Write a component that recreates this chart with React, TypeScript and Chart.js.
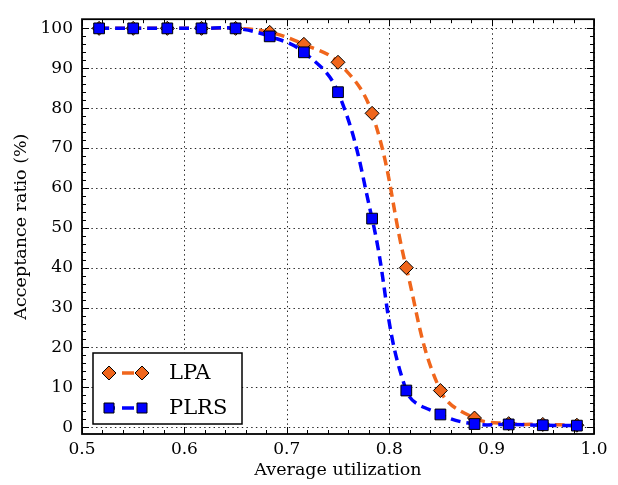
import React, { useEffect, useRef } from "react";
import { Chart, registerables } from "chart.js";

Chart.register(...registerables);

const utilization = [0.5167, 0.55, 0.5833, 0.6167, 0.65, 0.6833, 0.7167, 0.75, 0.7833, 0.8167, 0.85, 0.8833, 0.9167, 0.95, 0.9833];
const lpa = [100, 100, 100, 100, 100, 99, 96, 91.5, 78.7, 40, 9.2, 2.3, 0.9, 0.7, 0.5];
const plrs = [100, 100, 100, 100, 100, 98, 94, 84, 52.3, 9.2, 3.2, 0.8, 0.7, 0.5, 0.4];

const xTicks = [0.5, 0.6, 0.7, 0.8, 0.9, 1.0];
const xTickLabels = ["0.5", "0.6", "0.7", "0.8", "0.9", "1.0"];
const yTicks = [0, 10, 20, 30, 40, 50, 60, 70, 80, 90, 100];
const yTickLabels = ["0", "10", "20", "30", "40", "50", "60", "70", "80", "90", "100"];
const xMinorStep = 0.02;
const yMinorStep = 2;

const seriesNames = ["LPA", "PLRS"];
const ORANGE = "#f0661c";
const BLUE = "#0000ff";
const FONT = "'DejaVu Serif', serif";

const framePlugin = {
  id: "framePlugin",
  beforeDatasetsDraw(chart: any) {
    const { ctx, chartArea, scales } = chart;
    const xs = scales.x;
    const ys = scales.y;
    ctx.save();
    ctx.strokeStyle = "#222";
    ctx.lineWidth = 1;
    ctx.setLineDash([1.4, 3.3]);
    for (const v of xTicks) {
      const px = Math.round(xs.getPixelForValue(v)) + 0.5;
      ctx.beginPath();
      ctx.moveTo(px, chartArea.top);
      ctx.lineTo(px, chartArea.bottom);
      ctx.stroke();
    }
    for (const v of yTicks) {
      const py = Math.round(ys.getPixelForValue(v)) + 0.5;
      ctx.beginPath();
      ctx.moveTo(chartArea.left, py);
      ctx.lineTo(chartArea.right, py);
      ctx.stroke();
    }
    ctx.restore();
  },
  afterDatasetsDraw(chart: any) {
    const { ctx, chartArea, scales } = chart;
    const xs = scales.x;
    const ys = scales.y;
    const { left, right, top, bottom } = chartArea;
    ctx.save();
    ctx.strokeStyle = "#000";
    ctx.setLineDash([]);
    ctx.lineWidth = 1;
    const major = 7;
    const minor = 4;
    for (let v = 0.5; v <= 1.0001; v += xMinorStep) {
      const isMajor = xTicks.some((t) => Math.abs(t - v) < 1e-6);
      const len = isMajor ? major : minor;
      const px = Math.round(xs.getPixelForValue(v)) + 0.5;
      ctx.beginPath();
      ctx.moveTo(px, bottom);
      ctx.lineTo(px, bottom - len);
      ctx.moveTo(px, top);
      ctx.lineTo(px, top + len);
      ctx.stroke();
    }
    for (let v = 0; v <= 100.001; v += yMinorStep) {
      const isMajor = yTicks.some((t) => Math.abs(t - v) < 1e-6);
      const len = isMajor ? major : minor;
      const py = Math.round(ys.getPixelForValue(v)) + 0.5;
      ctx.beginPath();
      ctx.moveTo(left, py);
      ctx.lineTo(left + len, py);
      ctx.moveTo(right, py);
      ctx.lineTo(right - len, py);
      ctx.stroke();
    }
    ctx.lineWidth = 1.8;
    ctx.strokeRect(left, top, right - left, bottom - top);
    ctx.restore();
  },
  afterDraw(chart: any) {
    const { ctx, chartArea } = chart;
    const bx = chartArea.left + 11;
    const by = chartArea.bottom - 81;
    const bw = 149;
    const bh = 71;
    ctx.save();
    ctx.fillStyle = "#fff";
    ctx.fillRect(bx, by, bw, bh);
    ctx.strokeStyle = "#000";
    ctx.lineWidth = 1.5;
    ctx.setLineDash([]);
    ctx.strokeRect(bx, by, bw, bh);
    const rows = [
      { name: seriesNames[0], color: ORANGE, y: by + 20, shape: "diamond" },
      { name: seriesNames[1], color: BLUE, y: by + 55, shape: "square" },
    ];
    for (const r of rows) {
      const x1 = bx + 16;
      const x2 = bx + 49;
      ctx.strokeStyle = r.color;
      ctx.lineWidth = 3.5;
      ctx.setLineDash([6, 7, 12, 20]);
      ctx.beginPath();
      ctx.moveTo(x1, r.y);
      ctx.lineTo(x2, r.y);
      ctx.stroke();
      ctx.setLineDash([]);
      for (const mx of [x1, x2]) {
        ctx.fillStyle = r.color;
        ctx.strokeStyle = "#000";
        ctx.lineWidth = 1;
        ctx.beginPath();
        if (r.shape === "diamond") {
          const s = 7;
          ctx.moveTo(mx, r.y - s);
          ctx.lineTo(mx + s, r.y);
          ctx.lineTo(mx, r.y + s);
          ctx.lineTo(mx - s, r.y);
          ctx.closePath();
        } else {
          const s = 5;
          ctx.rect(mx - s, r.y - s, 2 * s, 2 * s);
        }
        ctx.fill();
        ctx.stroke();
      }
      ctx.fillStyle = "#000";
      ctx.font = `21px ${FONT}`;
      ctx.textBaseline = "middle";
      ctx.textAlign = "left";
      ctx.fillText(r.name, bx + 76, r.y + 1);
    }
    ctx.restore();
  },
};

export default function App() {
  const ref = useRef<HTMLCanvasElement | null>(null);
  useEffect(() => {
    document.body.style.margin = "0";
    const canvas = ref.current;
    if (!canvas) return;
    const chart = new Chart(canvas, {
      type: "line",
      data: {
        datasets: [
          {
            label: seriesNames[0],
            data: utilization.map((x, i) => ({ x, y: lpa[i] })),
            borderColor: ORANGE,
            backgroundColor: ORANGE,
            borderWidth: 3.5,
            borderDash: [10, 6],
            tension: 0.4,
            pointStyle: "rectRot",
            pointRadius: 7,
            pointBorderColor: "#000",
            pointBorderWidth: 1,
            pointBackgroundColor: ORANGE,
            fill: false,
            order: 1,
          },
          {
            label: seriesNames[1],
            data: utilization.map((x, i) => ({ x, y: plrs[i] })),
            borderColor: BLUE,
            backgroundColor: BLUE,
            borderWidth: 3.5,
            borderDash: [10, 6],
            tension: 0.4,
            pointStyle: "rect",
            pointRadius: 7.6,
            pointBorderColor: "#000",
            pointBorderWidth: 1,
            pointBackgroundColor: BLUE,
            fill: false,
            order: 0,
          },
        ],
      },
      options: {
        animation: false,
        responsive: false,
        maintainAspectRatio: false,
        layout: { padding: { top: 8, right: 24, left: 0, bottom: 0 } },
        plugins: { legend: { display: false }, tooltip: { enabled: false } },
        scales: {
          x: {
            type: "linear",
            min: 0.5,
            max: 1.0,
            afterBuildTicks: (s: any) => {
              s.ticks = xTicks.map((v) => ({ value: v }));
            },
            afterFit: (s: any) => {
              s.height = 51;
            },
            ticks: {
              callback: (_v: any, i: number) => xTickLabels[i],
              font: { family: FONT, size: 17 },
              color: "#000",
              padding: 5,
              maxRotation: 0,
              autoSkip: false,
            },
            grid: { display: false, drawTicks: false },
            border: { display: false },
            title: {
              display: true,
              text: "Average utilization",
              font: { family: FONT, size: 17.5 },
              color: "#000",
              padding: { top: 0, bottom: 4 },
            },
          },
          y: {
            type: "linear",
            min: -1.7,
            max: 102.3,
            afterBuildTicks: (s: any) => {
              s.ticks = yTicks.map((v) => ({ value: v }));
            },
            afterFit: (s: any) => {
              s.width = 82;
            },
            ticks: {
              callback: (_v: any, i: number) => yTickLabels[i],
              font: { family: FONT, size: 17 },
              color: "#000",
              padding: 9,
              autoSkip: false,
            },
            grid: { display: false, drawTicks: false },
            border: { display: false },
            title: {
              display: true,
              text: "Acceptance ratio (%)",
              font: { family: FONT, size: 17.5 },
              color: "#000",
              padding: { top: 11, bottom: 0 },
            },
          },
        },
      },
      plugins: [framePlugin],
    });
    return () => chart.destroy();
  }, []);
  return <canvas ref={ref} width={618} height={485} style={{ display: "block", width: 618, height: 485 }} />;
}
